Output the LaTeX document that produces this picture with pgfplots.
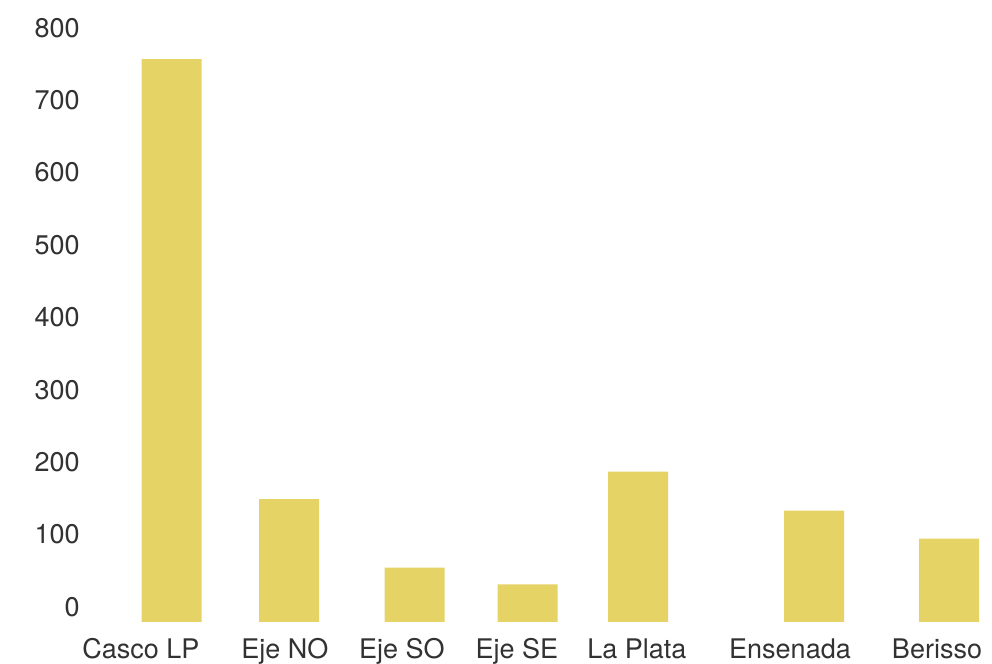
\documentclass[border=0pt]{standalone}
\usepackage{fontspec}
\setmainfont{TeX Gyre Heros}
\usepackage{pgfplots}
\pgfplotsset{compat=1.18}
\definecolor{barc}{RGB}{230,211,102}
\definecolor{txt}{RGB}{50,50,50}
\begin{document}
\begin{tikzpicture}
\useasboundingbox (0,-21pt) rectangle (496pt,311pt);
\begin{axis}[
  x=0.5pt, y=0.362pt,
  xmin=0, xmax=992, ymin=0, ymax=859,
  axis line style={draw=none},
  major tick length=0pt,
  ybar, bar width=30pt,
  xtick={141,285,402,517,637,790,937},
  xticklabels={Casco LP,Eje NO,Eje SO,Eje SE,La Plata,Ensenada,Berisso},
  ytick={0,100,...,800},
  yticklabel style={anchor=east, inner sep=0pt, xshift=40pt, yshift=7.5pt},
  xticklabel style={anchor=base, inner sep=0pt, yshift=-18.5pt},
  ticklabel style={font=\fontsize{13.5}{16}\selectfont, text=txt},
  /pgf/number format/assume math mode=true,
  clip=false,
]
\addplot[fill=barc, draw=none] coordinates {
  (171.5,777.5) (289,169.6) (414.5,75.1) (527.5,52.1) (638,207.6) (814,153.7) (949,115)
};
\end{axis}
\end{tikzpicture}
\end{document}
